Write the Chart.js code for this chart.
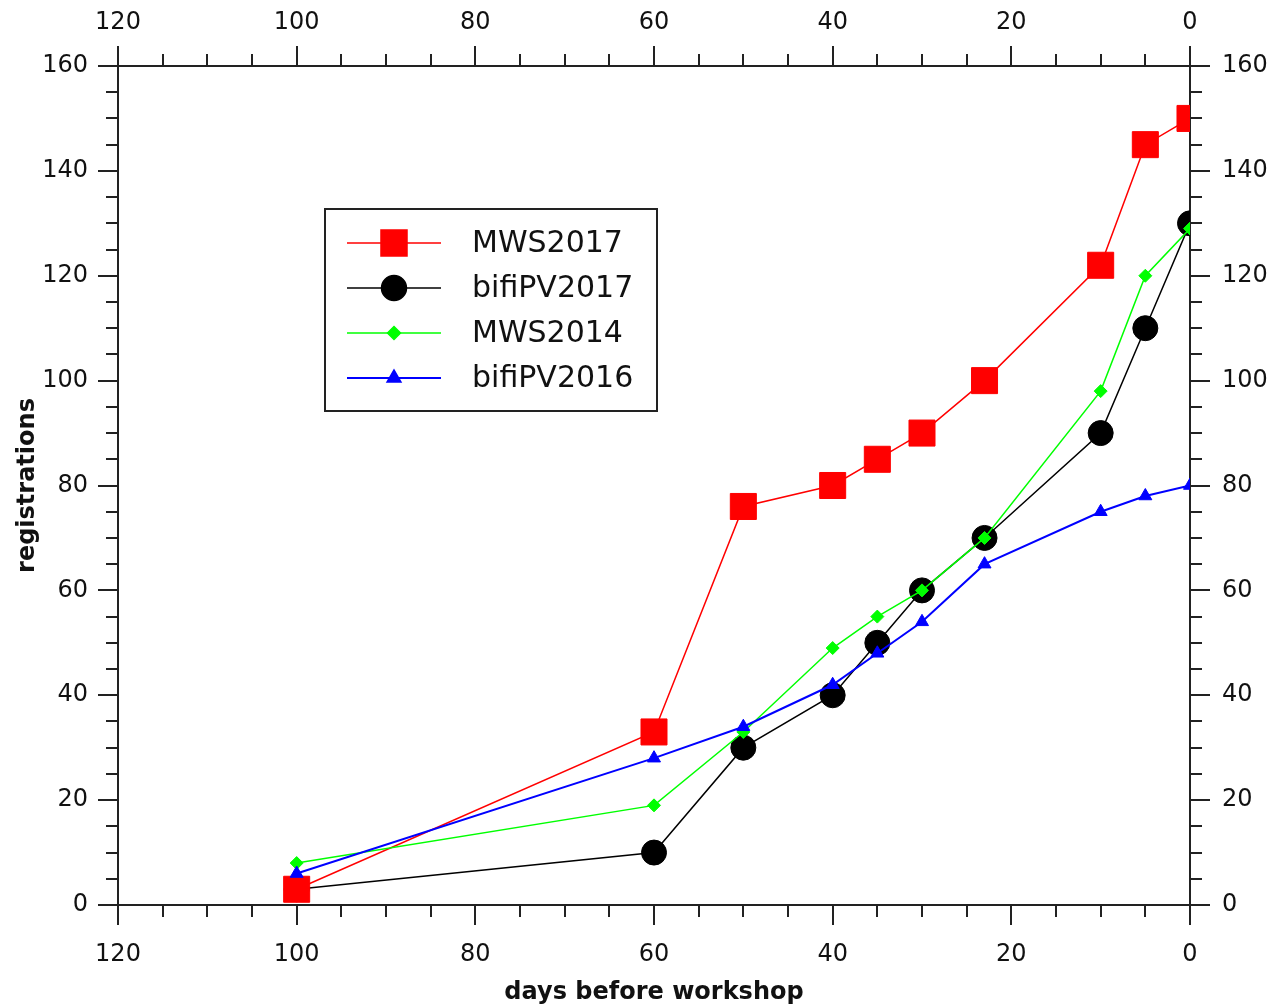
<!DOCTYPE html>
<html>
<head>
<meta charset="utf-8">
<title>Registrations before workshop</title>
<script src="https://cdn.jsdelivr.net/npm/chart.js@4.4.1/dist/chart.umd.min.js"></script>
<style>
  html, body { margin: 0; padding: 0; background: #fff; }
  #wrap { position: relative; width: 1270px; height: 1008px; }
</style>
</head>
<body>
<div id="wrap"><canvas id="reg-chart"></canvas></div>
<script>
// days before the workshop when registrations were counted
const days = [100, 60, 50, 40, 35, 30, 23, 10, 5, 0];
const mws2017 = [3, 33, 76, 80, 85, 90, 100, 122, 145, 150];
const bifiPV2017 = [3, 10, 30, 40, 50, 60, 70, 90, 110, 130];
const mws2014 = [8, 19, 33, 49, 55, 60, 70, 98, 120, 129];
const bifiPV2016 = [6, 28, 34, 42, 48, 54, 65, 75, 78, 80];
const seriesNames = ['MWS2017', 'bifiPV2017', 'MWS2014', 'bifiPV2016'];
// labelled (major) ticks; minor ticks every 5
const xTickLabels = [0, 20, 40, 60, 80, 100, 120];
const yTickLabels = [0, 20, 40, 60, 80, 100, 120, 140, 160];

const AXIS = '#222';
const TEXT = '#111';
Chart.defaults.font.family = '"DejaVu Sans", Verdana, sans-serif';
Chart.defaults.color = TEXT;

function pts(ys) {
  return days.map((d, i) => ({ x: d, y: ys[i] }));
}

// outer tick marks, long for labelled values, short for the rest
const tickMarks = {
  id: 'tickMarks',
  afterDraw(chart) {
    const c = chart.ctx;
    const a = chart.chartArea;
    c.save();
    c.strokeStyle = AXIS;
    c.lineWidth = 2;
    ['x', 'x2', 'y', 'y2'].forEach(id => {
      const s = chart.scales[id];
      const major = s.isHorizontal() ? xTickLabels : yTickLabels;
      s.ticks.forEach(t => {
        const len = major.includes(t.value) ? 20 : 12;
        const p = Math.round(s.getPixelForValue(t.value));
        c.beginPath();
        if (id === 'x') { c.moveTo(p, a.bottom); c.lineTo(p, a.bottom + len); }
        if (id === 'x2') { c.moveTo(p, a.top); c.lineTo(p, a.top - len); }
        if (id === 'y') { c.moveTo(a.left, p); c.lineTo(a.left - len, p); }
        if (id === 'y2') { c.moveTo(a.right, p); c.lineTo(a.right + len, p); }
        c.stroke();
      });
    });
    c.restore();
  }
};

// boxed legend with line + marker samples
const boxLegend = {
  id: 'boxLegend',
  afterDraw(chart) {
    const c = chart.ctx;
    const bx = 325, by = 209, bw = 332, bh = 202;
    c.save();
    c.fillStyle = '#fff';
    c.fillRect(bx, by, bw, bh);
    c.strokeStyle = AXIS;
    c.lineWidth = 2;
    c.strokeRect(bx, by, bw, bh);
    c.font = '30px "DejaVu Sans", Verdana, sans-serif';
    c.textBaseline = 'middle';
    chart.data.datasets.forEach((ds, i) => {
      const y = 243 + i * 45;
      c.strokeStyle = ds.borderColor;
      c.lineWidth = ds.borderWidth;
      c.beginPath();
      c.moveTo(347, y);
      c.lineTo(441, y);
      c.stroke();
      c.fillStyle = ds.pointBackgroundColor;
      c.strokeStyle = ds.pointBorderColor;
      Chart.helpers.drawPoint(c, {
        pointStyle: ds.pointStyle, radius: ds.pointRadius,
        borderWidth: ds.pointBorderWidth, rotation: 0
      }, 394, y);
      c.fillStyle = TEXT;
      c.fillText(ds.label, 472, y + 1);
    });
    c.restore();
  }
};

function series(label, ys, color, style, radius, width, order) {
  return {
    label: label,
    data: pts(ys),
    borderColor: color,
    backgroundColor: color,
    pointBackgroundColor: color,
    pointBorderColor: color,
    pointBorderWidth: 1,
    pointStyle: style,
    pointRadius: radius,
    pointHoverRadius: radius,
    borderWidth: width,
    tension: 0,
    order: order
  };
}

const tickFont = { size: 24 };
function xLabel(v) { return xTickLabels.includes(v) ? String(v) : ''; }
function yLabel(v) { return yTickLabels.includes(v) ? String(v) : ''; }

new Chart(document.getElementById('reg-chart'), {
  type: 'line',
  data: {
    datasets: [
      series(seriesNames[0], mws2017, '#ff0000', 'rect', 18.4, 1.5, 3),
      series(seriesNames[1], bifiPV2017, '#000000', 'circle', 12.5, 1.5, 4),
      series(seriesNames[2], mws2014, '#00ff00', 'rectRot', 6.5, 1.5, 2),
      series(seriesNames[3], bifiPV2016, '#0000ff', 'triangle', 7.5, 2, 1)
    ]
  },
  options: {
    responsive: true,
    maintainAspectRatio: false,
    animation: false,
    layout: { padding: 0 },
    plugins: { legend: { display: false }, tooltip: { enabled: false } },
    scales: {
      x: {
        type: 'linear', position: 'bottom', reverse: true, min: 0, max: 120,
        grid: { display: false, drawTicks: false },
        border: { display: true, color: AXIS, width: 2 },
        ticks: { stepSize: 5, autoSkip: false, maxRotation: 0, padding: 35, font: tickFont, callback: xLabel },
        title: { display: true, text: 'days before workshop', font: { size: 24, weight: 'bold' }, padding: { top: 0, bottom: 1 } },
        afterFit(s) { s.height = 103; }
      },
      x2: {
        type: 'linear', position: 'top', reverse: true, min: 0, max: 120,
        grid: { display: false, drawTicks: false },
        border: { display: true, color: AXIS, width: 2 },
        ticks: { stepSize: 5, autoSkip: false, maxRotation: 0, padding: 29, font: tickFont, callback: xLabel },
        afterFit(s) { s.height = 66; }
      },
      y: {
        type: 'linear', position: 'left', min: 0, max: 160,
        grid: { display: false, drawTicks: false },
        border: { display: true, color: AXIS, width: 2 },
        ticks: { stepSize: 5, autoSkip: false, padding: 30, font: tickFont, callback: yLabel },
        title: { display: true, text: 'registrations', font: { size: 24, weight: 'bold' }, padding: { top: 13, bottom: 0 } },
        afterFit(s) { s.width = 118; }
      },
      y2: {
        type: 'linear', position: 'right', min: 0, max: 160,
        grid: { display: false, drawTicks: false },
        border: { display: true, color: AXIS, width: 2 },
        ticks: { stepSize: 5, autoSkip: false, padding: 32, font: tickFont, callback: yLabel },
        afterFit(s) { s.width = 80; }
      }
    }
  },
  plugins: [tickMarks, boxLegend]
});
</script>
</body>
</html>
